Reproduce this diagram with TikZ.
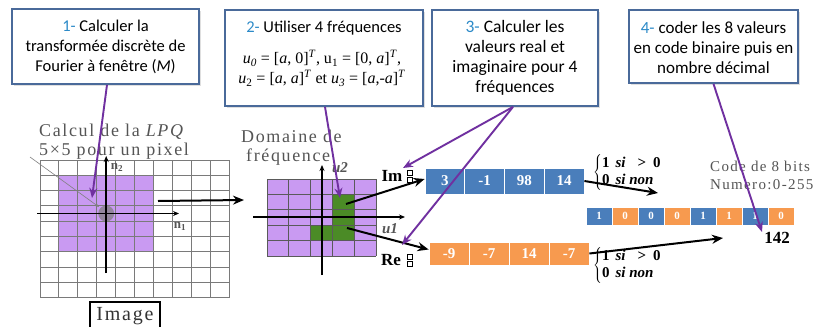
\documentclass[tikz,border=0pt]{standalone}
\usepackage{fontspec}
\setmainfont{Liberation Serif}
\newfontfamily\boxfont{Carlito}
\newfontfamily\grayfont[LetterSpace=9]{Liberation Serif}
\usetikzlibrary{arrows.meta,shadows}
\definecolor{boxblue}{HTML}{4A6A9A}
\definecolor{numblue}{HTML}{2C8AC8}
\definecolor{arrpurple}{HTML}{7030A0}
\definecolor{lightpurple}{HTML}{C99AF2}
\definecolor{cellgreen}{HTML}{4B8B26}
\definecolor{cellblue}{HTML}{4A7EBB}
\definecolor{cellorange}{HTML}{F79A4F}
\definecolor{labelgray}{HTML}{555555}
\definecolor{gridgray}{HTML}{7A7A7A}
\definecolor{griddark}{HTML}{5A5A5A}
\begin{document}
\begin{tikzpicture}[x=1pt,y=-1pt,
  stepbox/.style={draw=boxblue, line width=1.8pt, fill=white,
    drop shadow={opacity=0.25,shadow xshift=2pt,shadow yshift=-2pt}, inner sep=0pt},
  boxtext/.style={font=\boxfont\fontsize{16.5}{20}\selectfont, align=center},
  mathtext/.style={font=\fontsize{16}{20}\selectfont, align=center},
  parr/.style={draw=arrpurple, line width=1.9pt, -{Stealth[length=10pt,width=8pt]}},
  barr/.style={draw=black, line width=2pt, -{Stealth[length=11pt,width=9pt]}},
  axisarr/.style={draw=black, line width=1.5pt, -{Stealth[length=6pt,width=5pt]}},
  pointer/.style={draw=gray, line width=0.6pt, -{Stealth[length=4pt,width=3pt]}},
  graylbl/.style={font=\grayfont\fontsize{18}{19}\selectfont, text=labelgray, align=left, inner sep=0pt},
  axlbl/.style={font=\bfseries\fontsize{13}{13}\selectfont, text=labelgray, inner sep=0pt},
  bcell/.style={fill=cellblue, draw=white, line width=0.8pt, minimum width=39.75pt,
    minimum height=26pt, inner sep=0pt, text=white, font=\bfseries\fontsize{15}{15}\selectfont},
  ocell/.style={fill=cellorange, draw=white, line width=0.8pt, minimum width=40pt,
    minimum height=23pt, inner sep=0pt, text=white, font=\bfseries\fontsize{15}{15}\selectfont},
  bitb/.style={fill=cellblue, draw=white, line width=0.8pt, minimum width=26pt,
    minimum height=18pt, inner sep=0pt, text=white, font=\bfseries\fontsize{11}{11}\selectfont},
  bito/.style={bitb, fill=cellorange},
  condtext/.style={font=\bfseries\fontsize{15}{17}\selectfont, anchor=west, inner sep=0pt},
  reim/.style={font=\bfseries\fontsize{17}{17}\selectfont, inner sep=0pt}
]
\useasboundingbox (0,0) rectangle (815,327);
\fill[white] (0,0) rectangle (815,327);

% ---- top boxes ----
\node[stepbox, minimum width=187pt, minimum height=75pt] (b1) at (105.5,46.5) {};
\node[boxtext] (t1) at (105.5,47) {{\color{numblue}1-} Calculer la\\transformée discrète de\\Fourier à fenêtre (\textit{M})};

\node[stepbox, minimum width=198pt, minimum height=96pt] (b2) at (324,58) {};
\node[boxtext] (t2) at (324,28) {{\color{numblue}2-} Utiliser 4 fréquences};
\node[mathtext] (t2m) at (322,68) {\textit{u}\textsubscript{\textit{0}} = [\textit{a}, 0]\textsuperscript{\textit{T}}, u\textsubscript{1} = [0, \textit{a}]\textsuperscript{\textit{T}},\\
\textit{u}\textsubscript{2} = [\textit{a}, \textit{a}]\textsuperscript{\textit{T}} et \textit{u}\textsubscript{\textit{3}} = [\textit{a},-\textit{a}]\textsuperscript{\textit{T}}};

\node[stepbox, minimum width=166pt, minimum height=96pt] (b3) at (515,58) {};
\node[boxtext, font=\boxfont\fontsize{17.5}{20}\selectfont] (t3) at (515,58) {{\color{numblue}3-} Calculer les\\valeurs real et\\imaginaire pour 4\\fréquences};

\node[stepbox, minimum width=169pt, minimum height=73pt] (b4) at (713.5,46.5) {};
\node[boxtext, font=\boxfont\fontsize{17}{20}\selectfont] (t4) at (713.5,48) {{\color{numblue}4-} coder les 8 valeurs\\en code binaire puis en\\nombre décimal};

% ---- left grid (image) ----
\fill[lightpurple] (58.9,175.3) rectangle (153.4,251.8);
\foreach \i in {0,...,10} \draw[gridgray, line width=0.9pt] ({40+18.9*\i},160) -- ({40+18.9*\i},297.7);
\foreach \j in {0,...,9} \draw[gridgray, line width=0.9pt] (40,{160+15.3*\j}) -- (229,{160+15.3*\j});
\fill[gray, opacity=0.75] (106.2,213.5) circle (8pt);
\draw[axisarr] (106.2,273) -- (106.2,156);
\draw[axisarr] (37,213.5) -- (179,213.5);
\node[axlbl] (n2) at (117,167) {n\textsubscript{2}};
\node[axlbl] (n1) at (180,226) {n\textsubscript{1}};

\node[graylbl, anchor=west] (lpq) at (39,141.5) {Calcul de la \textit{LPQ}\\5×5 pour un pixel};
\coordinate (lpqs) at (30,157);
\coordinate (lpqt) at (99,207);
\draw[pointer] (lpqs) -- (lpqt);

\node[draw=black, line width=1.5pt, minimum width=70pt, minimum height=28pt,
  font=\grayfont\fontsize{20}{20}\selectfont, text=black!80, inner sep=0pt] (img) at (125,316) {Image};

% ---- middle grid (frequency domain) ----
\fill[lightpurple] (267,179) rectangle (376,256);
\fill[cellgreen] (332.4,194.4) rectangle (354.2,240.2);
\fill[cellgreen] (310.6,225) rectangle (332.4,240.2);
\foreach \i in {0,...,5} \draw[griddark, line width=1pt] ({267+21.8*\i},179) -- ({267+21.8*\i},256);
\foreach \j in {0,...,5} \draw[griddark, line width=1pt] (267,{179+15.4*\j}) -- (376,{179+15.4*\j});
\draw[axisarr] (322,275) -- (322,165);
\draw[axisarr] (253,217) -- (405,217);
\node[axlbl, font=\bfseries\itshape\fontsize{15}{15}\selectfont] (u2) at (340,168) {u2};
\node[axlbl, font=\bfseries\itshape\fontsize{15}{15}\selectfont] (u1) at (390,229) {u1};
\node[graylbl, anchor=west] (dom) at (241,147.5) {Domaine de\\\hspace*{5pt}fréquence};

\coordinate (gl) at (158,201);
\coordinate (gm) at (244,200);
\draw[barr] (gl) -- (gm);

% ---- Im / Re blocks ----
\node[reim] (im) at (392,176) {Im};
\node[reim] (re) at (391,260) {Re};
\draw[line width=0.6pt] (407,170) rectangle (412,175.5);
\draw[line width=0.6pt] (407,177) rectangle (412,182.5);
\draw[line width=0.6pt] (407,254) rectangle (412,259.5);
\draw[line width=0.6pt] (407,261) rectangle (412,266.5);

\node[bcell] (bc1) at (444.9,181) {3};
\node[bcell] (bc2) at (484.6,181) {-1};
\node[bcell] (bc3) at (524.4,181) {98};
\node[bcell] (bc4) at (564.1,181) {14};
\node[ocell] (oc1) at (449,253.5) {-9};
\node[ocell] (oc2) at (489,253.5) {-7};
\node[ocell] (oc3) at (529,253.5) {14};
\node[ocell] (oc4) at (569,253.5) {-7};

\coordinate (gim) at (346,204);
\coordinate (gre) at (347,228);
\draw[barr] (gim) -- ([yshift=2pt]bc1.west);
\draw[barr] (gre) -- ([yshift=4pt]oc1.west);

% ---- conditions ----
\node[condtext] (c1) at (593,172.5) {$\left\{\hbox{\begin{tabular}{@{}l@{}}1\hspace{6pt}\textit{si}\hspace{12pt}>\hspace{7pt}0\\0\hspace{6pt}\textit{si non}\end{tabular}}\right.$};
\node[condtext] (c2) at (593,265.5) {$\left\{\hbox{\begin{tabular}{@{}l@{}}1\hspace{6pt}\textit{si}\hspace{12pt}>\hspace{7pt}0\\0\hspace{6pt}\textit{si non}\end{tabular}}\right.$};

\node[graylbl, font=\grayfont\fontsize{15}{18}\selectfont, anchor=west] (code) at (710,175) {Code de 8 bits\\Numero:0-255};

% ---- binary code ----
\node[bitb] (k1) at (599,216) {1};
\node[bito] (k2) at (625,216) {0};
\node[bitb] (k3) at (651,216) {0};
\node[bito] (k4) at (677,216) {0};
\node[bitb] (k5) at (703,216) {1};
\node[bito] (k6) at (729,216) {1};
\node[bitb] (k7) at (755,216) {1};
\node[bito] (k8) at (781,216) {0};
\node[reim] (dec) at (777,238) {142};

\coordinate (bt) at (658,193);
\coordinate (ot) at (723,238);
\draw[barr] (bc4.east) -- (bt);
\draw[barr] (oc4.east) -- (ot);

% ---- purple arrows ----
\coordinate (p1) at (92,198);
\coordinate (p2) at (340,198);
\coordinate (p3a) at (403,168);
\coordinate (p3b) at (402,245);
\coordinate (p4) at (762,232);
\draw[parr] ([xshift=1.5pt]b1.south) -- (p1);
\draw[parr] ([xshift=1pt]b2.south) -- (p2);
\draw[parr] ([xshift=-2pt]b3.south) -- (p3a);
\draw[parr] ([xshift=-2pt]b3.south) -- (p3b);
\draw[parr] (b4.south) -- (p4);
\end{tikzpicture}
\end{document}
